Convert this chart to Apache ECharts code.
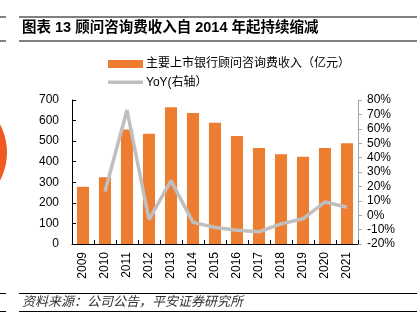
<!DOCTYPE html>
<html>
<head>
<meta charset="utf-8">
<script src="https://cdn.jsdelivr.net/npm/echarts@6/dist/echarts.min.js"></script>
<style>
html,body{margin:0;padding:0;background:#fff;}
#main{width:417px;height:333px;}
</style>
</head>
<body>
<div id="main"></div>
<script>
var categories = ['2009','2010','2011','2012','2013','2014','2015','2016','2017','2018','2019','2020','2021'];
var revenue = [278, 325, 556, 536, 665, 637, 589, 525, 467, 436, 424, 467, 490];
var yoy = [null, 16.5, 73, -3, 24, -5, -8.5, -10.5, -11.5, -6, -2.5, 9.2, 5.5];
var leftTicks = {min: 0, max: 700, interval: 100};
var rightTicks = {min: -20, max: 80, interval: 10};
var barName = '主要上市银行顾问咨询费收入（亿元）';
var lineName = 'YoY(右轴）';
var titleText = '图表 13 顾问咨询费收入自 2014 年起持续缩减';
var sourceText = '资料来源：公司公告，平安证券研究所';

var FONT = '"Liberation Sans", "Noto Sans CJK SC", sans-serif';
var legendText = {fontSize: 12, color: '#000', lineHeight: 14, fontFamily: FONT, padding: [0, 0, 0, -2]};
var chart = echarts.init(document.getElementById('main'), null, {renderer: 'canvas'});
chart.setOption({
  animation: false,
  backgroundColor: '#fff',
  textStyle: {fontFamily: FONT},
  graphic: [
    {type: 'circle', shape: {cx: -53, cy: 152.5, r: 60}, style: {fill: '#F05A22'}},
    {type: 'line', shape: {x1: 0, y1: 17, x2: 6, y2: 17}, style: {stroke: '#000', lineWidth: 1}},
    {type: 'line', shape: {x1: 19, y1: 17, x2: 417, y2: 17}, style: {stroke: '#000', lineWidth: 1}},
    {type: 'line', shape: {x1: 0, y1: 41, x2: 6, y2: 41}, style: {stroke: '#000', lineWidth: 1}},
    {type: 'line', shape: {x1: 19, y1: 41, x2: 417, y2: 41}, style: {stroke: '#000', lineWidth: 1}},
    {type: 'text', left: 22, top: 20.5, style: {text: titleText, fill: '#000', font: 'bold 14.5px ' + FONT}},
    {type: 'line', shape: {x1: 0, y1: 293.5, x2: 6, y2: 293.5}, style: {stroke: '#000', lineWidth: 1}},
    {type: 'line', shape: {x1: 19, y1: 293.5, x2: 417, y2: 293.5}, style: {stroke: '#000', lineWidth: 1}},
    {type: 'line', shape: {x1: 0, y1: 311.5, x2: 6, y2: 311.5}, style: {stroke: '#000', lineWidth: 1}},
    {type: 'line', shape: {x1: 19, y1: 311.5, x2: 417, y2: 311.5}, style: {stroke: '#000', lineWidth: 1}},
    {type: 'text', left: 22, top: 295.5, style: {text: sourceText, fill: '#333', font: 'italic 13px ' + FONT}}
  ],
  legend: [
    {
      left: 108, top: 57, padding: 0,
      itemWidth: 35, itemHeight: 8,
      textStyle: legendText,
      data: [{name: barName, icon: 'rect'}]
    },
    {
      left: 108, top: 75.3, padding: 0,
      itemWidth: 35, itemHeight: 3.5,
      textStyle: legendText,
      data: [{name: lineName, icon: 'rect', itemStyle: {color: '#BFBFBF'}}]
    }
  ],
  grid: {left: 72, right: 59, top: 100, bottom: 89, containLabel: false},
  xAxis: {
    type: 'category',
    data: categories,
    axisLine: {lineStyle: {color: '#000', width: 1}},
    axisTick: {show: true, inside: true, length: 4, lineStyle: {color: '#000'}},
    axisLabel: {rotate: 90, color: '#000', fontSize: 12, margin: 8, fontFamily: FONT}
  },
  yAxis: [
    {
      type: 'value', min: leftTicks.min, max: leftTicks.max, interval: leftTicks.interval,
      axisLine: {show: true, lineStyle: {color: '#000'}},
      axisTick: {show: true, inside: true, length: 4, lineStyle: {color: '#000'}},
      axisLabel: {color: '#000', fontSize: 12, margin: 13, fontFamily: FONT},
      splitLine: {show: false}
    },
    {
      type: 'value', min: rightTicks.min, max: rightTicks.max, interval: rightTicks.interval,
      axisLine: {show: true, lineStyle: {color: '#A6A6A6'}},
      axisTick: {show: true, inside: false, length: 4, lineStyle: {color: '#A6A6A6'}},
      axisLabel: {color: '#000', fontSize: 12, margin: 9, formatter: '{value}%', fontFamily: FONT},
      splitLine: {show: false}
    }
  ],
  series: [
    {
      name: barName, type: 'bar', data: revenue, yAxisIndex: 0,
      barWidth: '55%',
      itemStyle: {color: '#ED7D31'}
    },
    {
      name: lineName, type: 'line', data: yoy, yAxisIndex: 1,
      showSymbol: false, symbol: 'none',
      lineStyle: {color: '#BFBFBF', width: 3.5},
      itemStyle: {color: '#BFBFBF'}
    }
  ]
});
</script>
</body>
</html>
